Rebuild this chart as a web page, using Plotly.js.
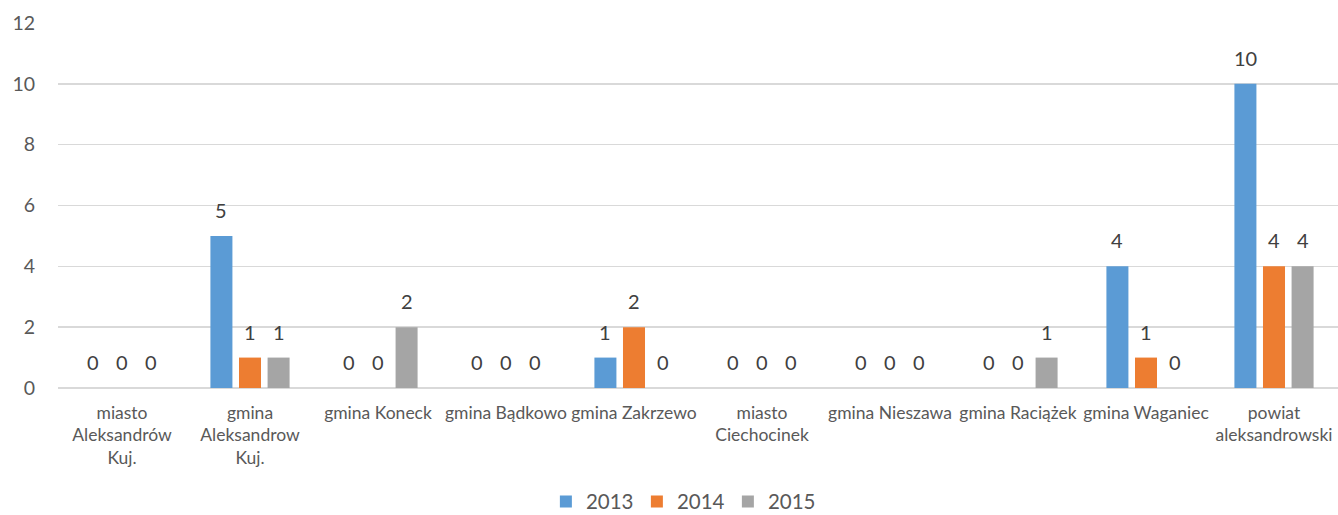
<!DOCTYPE html>
<html>
<head>
<meta charset="utf-8">
<script src="https://cdn.plot.ly/plotly-3.0.1.min.js"></script>
<style>html,body{margin:0;padding:0;background:#fff;}#chart{width:1338px;height:515px;}</style>
</head>
<body>
<div id="chart"></div>
<script>
const categories = ["miasto<br>Aleksandrów<br>Kuj.", "gmina<br>Aleksandrow<br>Kuj.", "gmina Koneck", "gmina Bądkowo", "gmina Zakrzewo", "miasto<br>Ciechocinek", "gmina Nieszawa", "gmina Raciążek", "gmina Waganiec", "powiat<br>aleksandrowski"];
const years = ["2013", "2014", "2015"];
const v2013 = [0, 5, 0, 0, 1, 0, 0, 0, 4, 10];
const v2014 = [0, 1, 0, 0, 2, 0, 0, 0, 1, 4];
const v2015 = [0, 1, 2, 0, 0, 0, 0, 1, 0, 4];
const yTicks = [0, 2, 4, 6, 8, 10, 12];

const series = [v2013, v2014, v2015];
const colors = ["#5B9BD5", "#ED7D31", "#A5A5A5"];
const idx = categories.map((c, i) => i);
const bargap = 0.33;
const FONT = "Lato, 'Open Sans', sans-serif";

const traces = series.map((vals, k) => ({
  type: "bar",
  name: years[k],
  x: idx,
  y: vals,
  marker: {color: colors[k]},
  hoverinfo: "none"
}));

const slot = (1 - bargap) / series.length;
const annotations = [];
series.forEach((vals, k) => {
  vals.forEach((v, i) => {
    annotations.push({
      x: i + (k - (series.length - 1) / 2) * slot,
      y: v,
      xref: "x", yref: "y",
      text: String(v),
      showarrow: false,
      yanchor: "bottom",
      yshift: 12,
      font: {family: FONT, size: 20, color: "#404040"}
    });
  });
});

const layout = {
  width: 1338, height: 515,
  margin: {l: 58, r: 0, t: 23, b: 127, autoexpand: false},
  paper_bgcolor: "#fff", plot_bgcolor: "#fff",
  barmode: "group",
  bargap: bargap,
  bargroupgap: 0.23,
  showlegend: true,
  legend: {orientation: "h", x: 0.51, xanchor: "center", xref: "container",
           y: 0.026, yanchor: "middle", yref: "container",
           itemwidth: 30, entrywidth: 46, entrywidthmode: "pixels",
           font: {family: FONT, size: 20.5, color: "#595959"}},
  xaxis: {
    tickmode: "array", tickvals: idx, ticktext: categories,
    range: [-0.5, categories.length - 0.5],
    showgrid: false, zeroline: false, showline: false, ticks: "",
    automargin: false, ticklabelstandoff: 12,
    tickfont: {family: FONT, size: 17.5, color: "#595959"}
  },
  yaxis: {
    range: [0, 12], tickmode: "array", tickvals: yTicks,
    showgrid: true, gridcolor: "#D9D9D9", gridwidth: 1.5,
    zeroline: true, zerolinecolor: "#D9D9D9", zerolinewidth: 1.5,
    showline: false, ticks: "", ticklabelstandoff: 22, automargin: false,
    tickfont: {family: FONT, size: 19.5, color: "#595959"}
  },
  annotations: annotations
};

Plotly.newPlot("chart", traces, layout, {displayModeBar: false, staticPlot: true});
</script>
</body>
</html>
